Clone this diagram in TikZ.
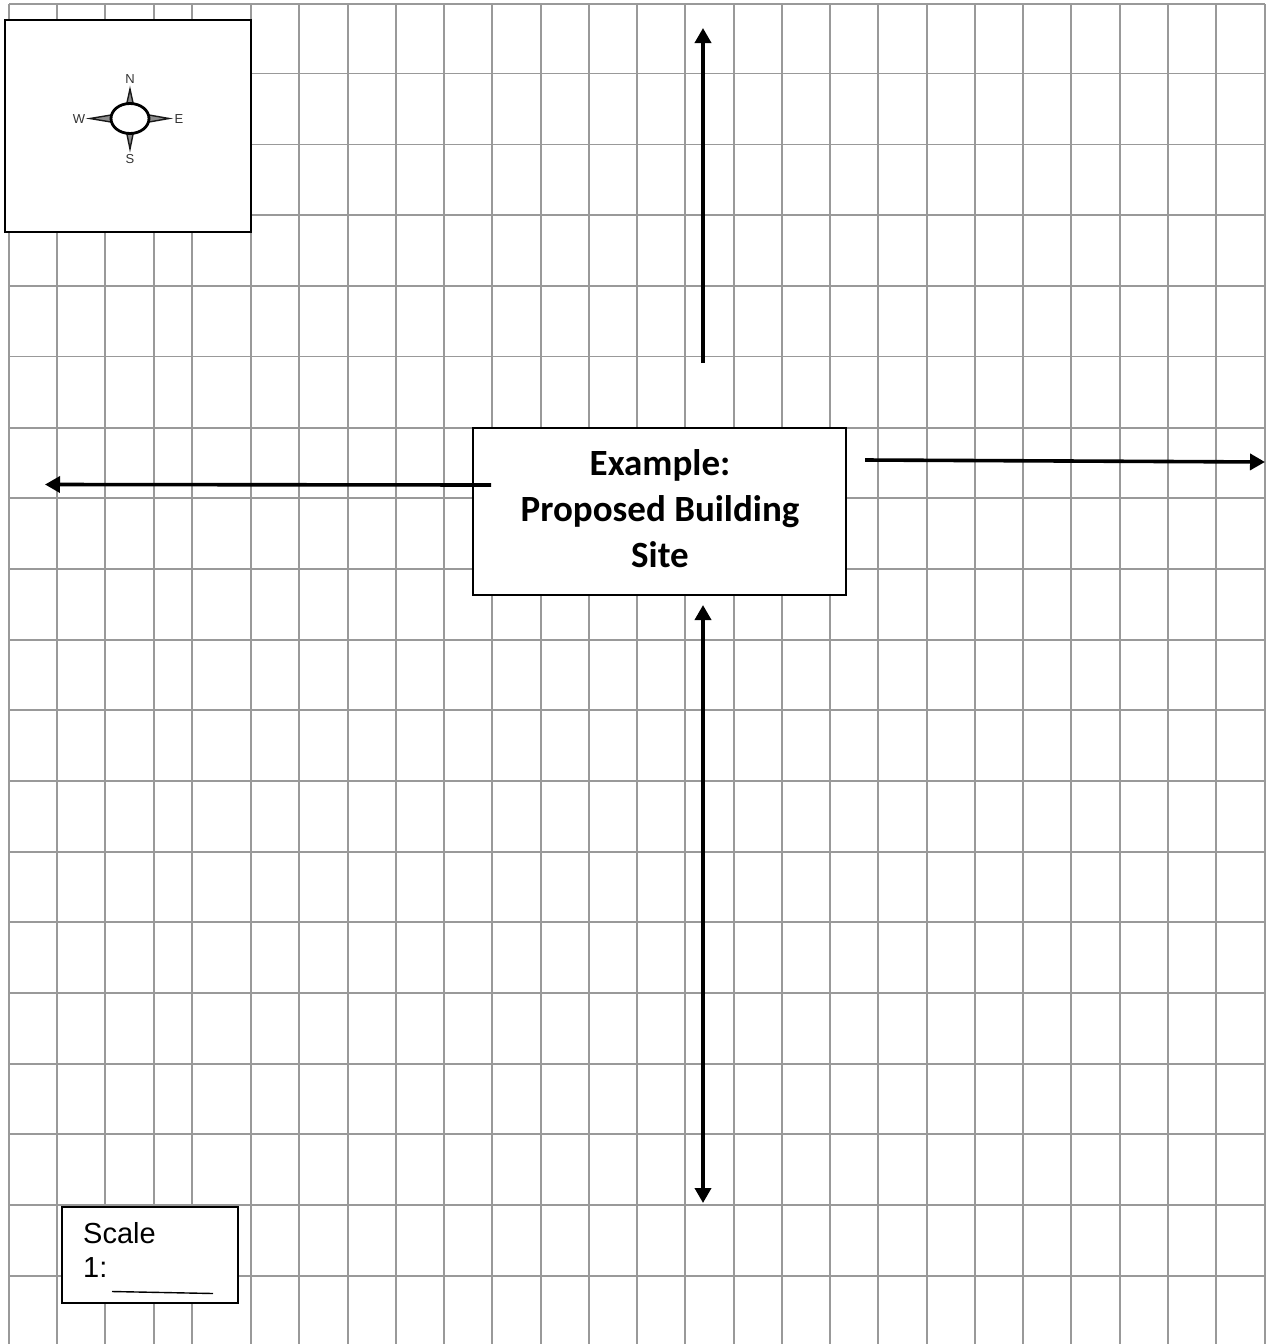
\documentclass[tikz,border=0pt]{standalone}
\usepackage{fontspec}
\setmainfont{Liberation Sans}
\newfontfamily\sitefont{Carlito}
\usetikzlibrary{arrows.meta,shapes.geometric}
\tikzset{
  grid line/.style={draw=black!40, line width=1.5pt},
  plan box/.style={draw, fill=white, line width=1.6pt, rectangle, inner sep=0pt, outer sep=0pt},
  site arrow/.style={line width=3.6pt, -{Triangle[length=15pt,width=16pt]}},
  both arrow/.style={line width=3.6pt, {Triangle[length=15pt,width=16pt]}-{Triangle[length=15pt,width=16pt]}},
  compass label/.style={font=\fontsize{13}{15}\selectfont, inner sep=0pt, text=black!80},
  compass spike/.style={draw=black!90, fill=black!45, line width=1.4pt, line join=miter},
}
\begin{document}
\begin{tikzpicture}[x=1pt, y=-1pt]
  \useasboundingbox (0,0) rectangle (1268,1344);
  \fill[white] (0,0) rectangle (1268,1344);

  % Grid
  \foreach \gx in {9,57,105,154,192,251,299,348,396,444,492,541,589,637,685,734,782,830,878,927,975,1023,1071,1120,1168,1216,1265}
    \draw[grid line] (\gx,4) -- (\gx,1344);
  \foreach \gy in {4,73.7,144.4,215.1,285.8,356.5,428,498,569,640,710,781,852,922,993,1064,1134,1205,1276}
    \draw[grid line] (9,\gy) -- (1265,\gy);

  % Boxes
  \node[plan box, minimum width=246pt, minimum height=212pt] (compassbox) at (128,126) {};
  \node[plan box, minimum width=373pt, minimum height=167pt] (site) at (659.5,511.5) {};
  \node[inner sep=0pt, align=center, font=\sitefont\bfseries\fontsize{37}{46}\selectfont]
    (sitetext) at (660,508.5) {Example:\\Proposed Building\\Site};
  \node[plan box, minimum width=176pt, minimum height=96pt] (scalebox) at (150,1255) {};

  % Compass
  \coordinate (tipN) at (130,89);
  \coordinate (tipS) at (130,149);
  \coordinate (tipW) at (90,118.5);
  \coordinate (tipE) at (169,118.5);
  \draw[compass spike] (tipN) -- (126.5,105) -- (133.5,105) -- cycle;
  \draw[compass spike] (tipS) -- (126.5,132) -- (133.5,132) -- cycle;
  \draw[compass spike] (tipW) -- (111,115) -- (111,122) -- cycle;
  \draw[compass spike] (tipE) -- (149,115) -- (149,122) -- cycle;
  \node[ellipse, draw, fill=white, line width=2.8pt, minimum width=38pt, minimum height=30pt, inner sep=0pt] (needle) at (130,118.5) {};
  \node[compass label] (labelN) at (130,79) {N};
  \node[compass label] (labelS) at (130,159) {S};
  \node[compass label] (labelW) at (79,119) {W};
  \node[compass label] (labelE) at (179,119) {E};

  % Scale text
  \node[anchor=base west, inner sep=0pt, font=\fontsize{29}{34}\selectfont] (scaletext) at (83,1243) {Scale};
  \node[anchor=base west, inner sep=0pt, font=\fontsize{29}{34}\selectfont] (ratiotext) at (83,1277) {1:};
  \coordinate (ruleL) at (112,1291.5);
  \coordinate (ruleR) at (213,1293.5);
  \draw[line width=1.4pt] (ruleL) -- (ruleR);

  % Arrows
  \coordinate (northS) at (703,363);
  \coordinate (northE) at (703,28);
  \coordinate (westS) at (491,485);
  \coordinate (westE) at (45,484.5);
  \coordinate (eastS) at (865,460);
  \coordinate (eastE) at (1265,462);
  \coordinate (southS) at (703,605);
  \coordinate (southE) at (703,1203);
  \draw[site arrow] (northS) -- (northE);
  \draw[site arrow] (westS) -- (westE);
  \draw[site arrow] (eastS) -- (eastE);
  \draw[both arrow] (southS) -- (southE);
\end{tikzpicture}
\end{document}
